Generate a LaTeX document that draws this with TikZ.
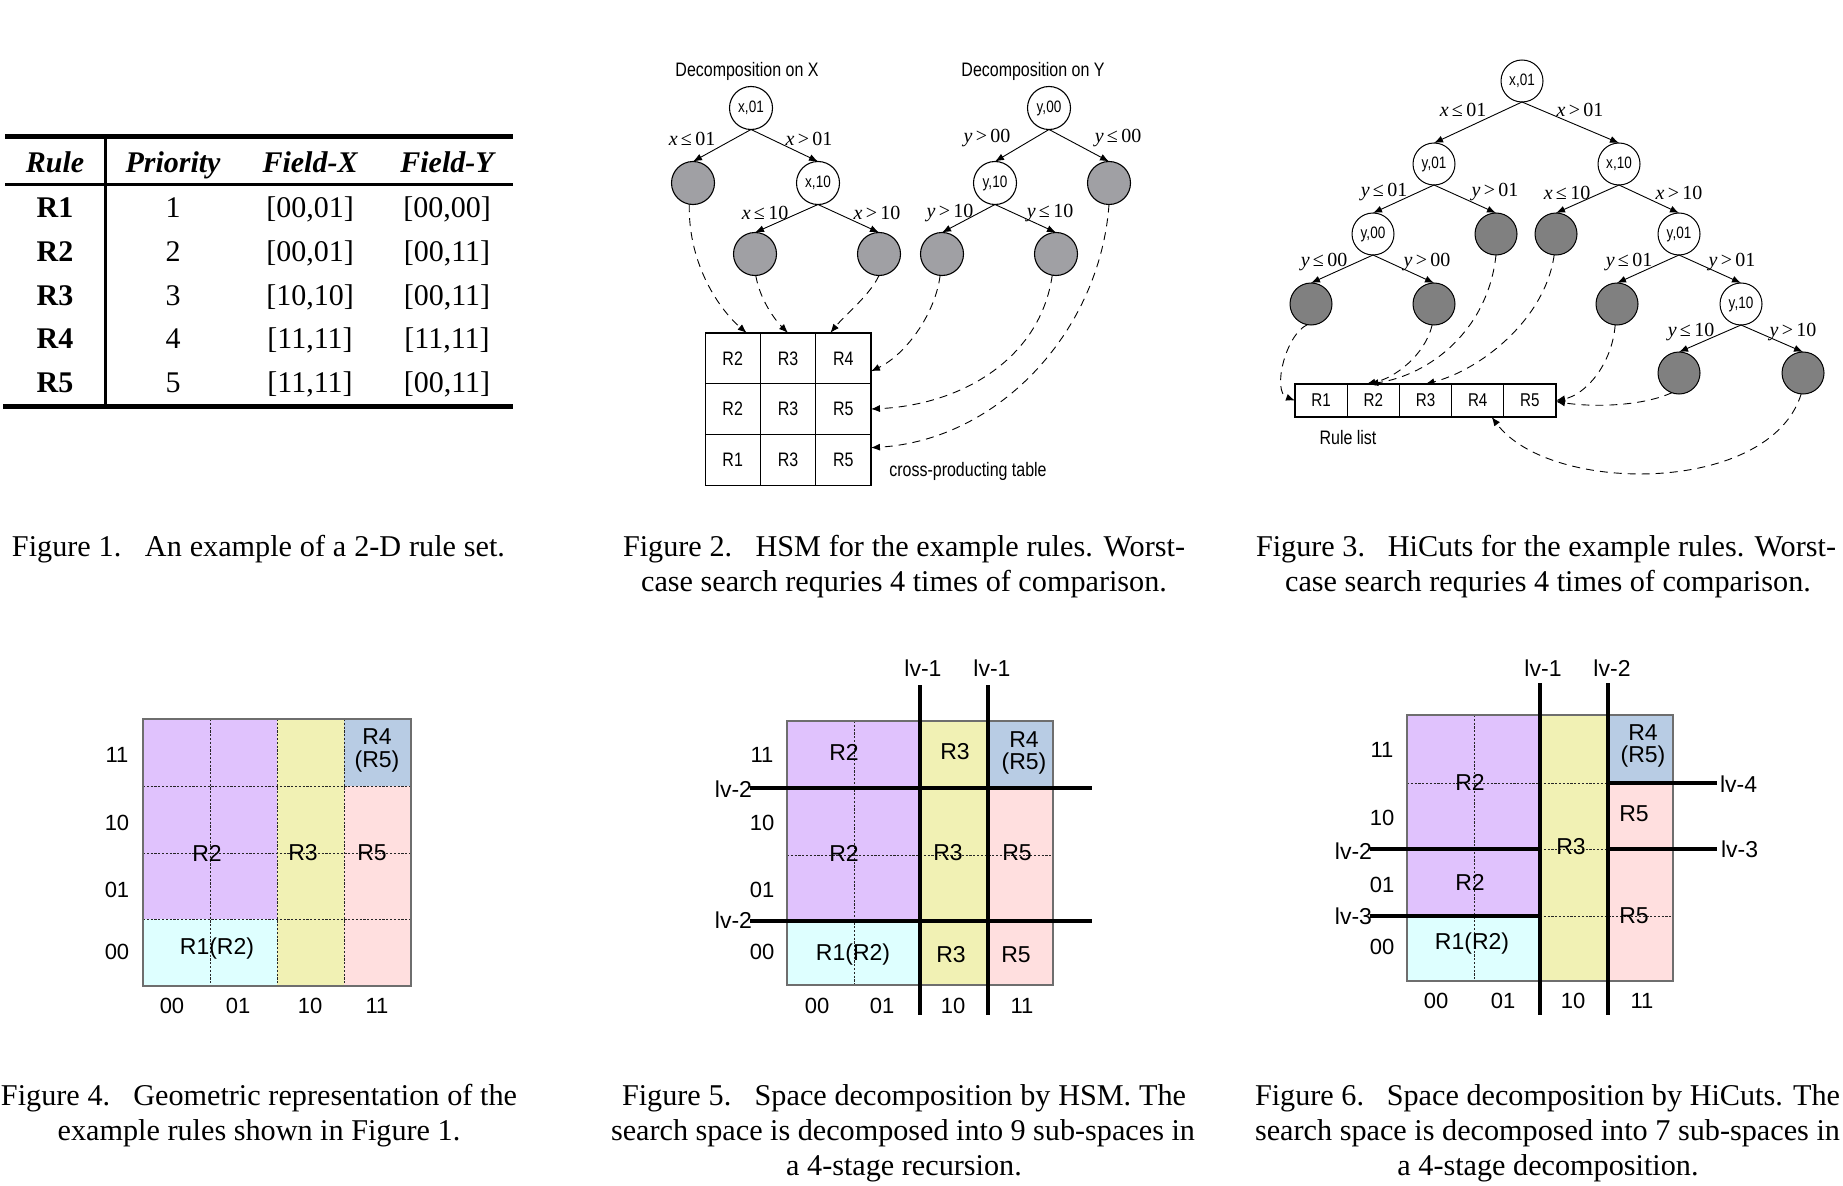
\documentclass[tikz,border=0pt]{standalone}
\usepackage{fontspec}
\setmainfont{Liberation Serif}
\newfontfamily\nsf[FakeStretch=0.82]{Liberation Sans}
\newfontfamily\asf{Liberation Sans}
\usetikzlibrary{arrows.meta,shapes.geometric}
\definecolor{cpur}{RGB}{224,194,253}
\definecolor{ccya}{RGB}{222,255,255}
\definecolor{cyel}{RGB}{241,241,180}
\definecolor{cpin}{RGB}{255,223,223}
\definecolor{cblu}{RGB}{184,204,228}
\definecolor{gA}{RGB}{160,160,164}
\definecolor{gB}{RGB}{128,128,128}
\definecolor{bord}{RGB}{110,110,110}
\tikzset{
  every node/.style={inner sep=0pt, outer sep=0pt},
  capt/.style={font=\fontsize{30.2}{36}\selectfont},
  tabh/.style={anchor=base, font=\fontsize{30}{30}\selectfont\bfseries\itshape},
  tabr/.style={anchor=base, font=\fontsize{30}{30}\selectfont\bfseries},
  tabc/.style={anchor=base, font=\fontsize{30}{30}\selectfont},
  tn/.style={circle, draw, line width=1.1pt, minimum size=43pt, fill=white, font=\nsf\fontsize{16.5}{17}\selectfont},
  tl/.style={circle, draw, line width=1.1pt, minimum size=43pt, fill=gA},
  hn/.style={circle, draw, line width=1pt, minimum size=42pt, fill=white, font=\nsf\fontsize{16.5}{17}\selectfont},
  hl/.style={circle, draw, line width=1pt, minimum size=42pt, fill=gB},
  tedge/.style={-{Latex[length=9pt,width=7pt]}, line width=0.9pt},
  dconn/.style={dash pattern=on 8pt off 6pt, line width=0.9pt, -{Latex[length=9pt,width=7pt]}},
  elab/.style={font=\fontsize{20}{20}\selectfont},
  nlab/.style={font=\nsf\fontsize{19.5}{20}\selectfont},
  cellA/.style={draw, line width=1.1pt, minimum width=55.3pt, minimum height=50.7pt, font=\nsf\fontsize{19.5}{20}\selectfont},
  cellB/.style={draw, line width=1.1pt, minimum width=52.2pt, minimum height=33pt, font=\nsf\fontsize{18.5}{19}\selectfont},
  glab/.style={font=\asf\fontsize{23}{25}\selectfont, align=center},
  alab/.style={font=\asf\fontsize{22}{22}\selectfont},
  grd/.style={line width=0.8pt, dash pattern=on 2.2pt off 1.6pt, black!85},
  bdr/.style={line width=1.2pt, bord},
  thk/.style={line width=4pt},
}
\begin{document}
\begin{tikzpicture}[x=1pt,y=-1pt]
\useasboundingbox (0,0) rectangle (1843,1185);
\fill[white] (0,0) rectangle (1843,1185);

% ---------------- Figure 1: table ----------------
\draw[line width=5pt] (5,137) -- (513,137);
\draw[line width=3pt] (5,185) -- (513,185);
\draw[line width=3pt] (105,139) -- (105,404);
\draw[line width=5pt] (3,406) -- (513,406);
\node[tabh] (th1) at (55,173) {Rule};
\node[tabh] (th2) at (173,173) {Priority};
\node[tabh] (th3) at (310,173) {Field-X};
\node[tabh] (th4) at (447,173) {Field-Y};
\node[tabr] (ra1) at (55,218) {R1};
\node[tabc] (ra2) at (173,218) {1};
\node[tabc] (ra3) at (310,218) {[00,01]};
\node[tabc] (ra4) at (447,218) {[00,00]};
\node[tabr] (rb1) at (55,261.5) {R2};
\node[tabc] (rb2) at (173,261.5) {2};
\node[tabc] (rb3) at (310,261.5) {[00,01]};
\node[tabc] (rb4) at (447,261.5) {[00,11]};
\node[tabr] (rc1) at (55,305) {R3};
\node[tabc] (rc2) at (173,305) {3};
\node[tabc] (rc3) at (310,305) {[10,10]};
\node[tabc] (rc4) at (447,305) {[00,11]};
\node[tabr] (rd1) at (55,348.5) {R4};
\node[tabc] (rd2) at (173,348.5) {4};
\node[tabc] (rd3) at (310,348.5) {[11,11]};
\node[tabc] (rd4) at (447,348.5) {[11,11]};
\node[tabr] (re1) at (55,392) {R5};
\node[tabc] (re2) at (173,392) {5};
\node[tabc] (re3) at (310,392) {[11,11]};
\node[tabc] (re4) at (447,392) {[00,11]};

% ---------------- Figure 2: HSM ----------------
\node[nlab] (dx) at (747,71) {Decomposition on X};
\node[nlab] (dy) at (1033,71) {Decomposition on Y};
\node[tn] (a0) at (751,108) {x,01};
\node[tl] (a1) at (693,183) {};
\node[tn] (a2) at (818,183) {x,10};
\node[tl] (a3) at (755,254) {};
\node[tl] (a4) at (879,254) {};
\node[tn] (b0) at (1049,108) {y,00};
\node[tn] (b1) at (995,183) {y,10};
\node[tl] (b2) at (1109,183) {};
\node[tl] (b3) at (942,254) {};
\node[tl] (b4) at (1056,254) {};
\draw[tedge] (a0.south) -- (a1.north);
\draw[tedge] (a0.south) -- (a2.north);
\draw[tedge] (a2.south) -- (a3.north);
\draw[tedge] (a2.south) -- (a4.north);
\draw[tedge] (b0.south) -- (b1.north);
\draw[tedge] (b0.south) -- (b2.north);
\draw[tedge] (b1.south) -- (b3.north);
\draw[tedge] (b1.south) -- (b4.north);
\node[elab] (la1) at (692,139) {\textit{x}\,≤\,01};
\node[elab] (la2) at (809,139) {\textit{x}\,>\,01};
\node[elab] (la3) at (765,213) {\textit{x}\,≤\,10};
\node[elab] (la4) at (877,213) {\textit{x}\,>\,10};
\node[elab] (lb1) at (987,138) {\textit{y}\,>\,00};
\node[elab] (lb2) at (1118,138) {\textit{y}\,≤\,00};
\node[elab] (lb3) at (950,213) {\textit{y}\,>\,10};
\node[elab] (lb4) at (1050,213) {\textit{y}\,≤\,10};
\node[cellA] (t11) at (732.7,358.3) {R2};
\node[cellA] (t12) at (788,358.3) {R3};
\node[cellA] (t13) at (843.3,358.3) {R4};
\node[cellA] (t21) at (732.7,409) {R2};
\node[cellA] (t22) at (788,409) {R3};
\node[cellA] (t23) at (843.3,409) {R5};
\node[cellA] (t31) at (732.7,459.7) {R1};
\node[cellA] (t32) at (788,459.7) {R3};
\node[cellA] (t33) at (843.3,459.7) {R5};
\node[nlab] (cpt) at (968,471) {cross-producting table};
\draw[dconn] (a1.-100) .. controls (688,265) and (720,310) .. ([xshift=14pt]t11.north);
\draw[dconn] (a3.-88) .. controls (760,300) and (775,320) .. (t12.north);
\draw[dconn] (a4.-90) .. controls (870,295) and (845,315) .. ([xshift=-13pt]t13.north);
\draw[dconn] (b3.-95) .. controls (935,315) and (905,355) .. ([yshift=-13pt]t13.east);
\draw[dconn] (b4.-100) .. controls (1040,360) and (960,405) .. (t23.east);
\draw[dconn] (b2.-90) .. controls (1100,330) and (1000,440) .. ([yshift=12pt]t33.east);

% ---------------- Figure 3: HiCuts ----------------
\node[hn] (c0) at (1522,81) {x,01};
\node[hn] (c1) at (1434,164) {y,01};
\node[hn] (c2) at (1619,164) {x,10};
\node[hn] (c3) at (1373,234) {y,00};
\node[hl] (c4) at (1496,234) {};
\node[hl] (c5) at (1556,234) {};
\node[hn] (c6) at (1679,234) {y,01};
\node[hl] (c7) at (1311,304) {};
\node[hl] (c8) at (1434,304) {};
\node[hl] (c9) at (1617,304) {};
\node[hn] (c10) at (1741,304) {y,10};
\node[hl] (c11) at (1679,373) {};
\node[hl] (c12) at (1803,373) {};
\draw[tedge] (c0.south) -- (c1.north);
\draw[tedge] (c0.south) -- (c2.north);
\draw[tedge] (c1.south) -- (c3.north);
\draw[tedge] (c1.south) -- (c4.north);
\draw[tedge] (c2.south) -- (c5.north);
\draw[tedge] (c2.south) -- (c6.north);
\draw[tedge] (c3.south) -- (c7.north);
\draw[tedge] (c3.south) -- (c8.north);
\draw[tedge] (c6.south) -- (c9.north);
\draw[tedge] (c6.south) -- (c10.north);
\draw[tedge] (c10.south) -- (c11.north);
\draw[tedge] (c10.south) -- (c12.north);
\node[elab] (lc1) at (1463,110) {\textit{x}\,≤\,01};
\node[elab] (lc2) at (1580,110) {\textit{x}\,>\,01};
\node[elab] (lc3) at (1384,192) {\textit{y}\,≤\,01};
\node[elab] (lc4) at (1495,192) {\textit{y}\,>\,01};
\node[elab] (lc5) at (1567,193) {\textit{x}\,≤\,10};
\node[elab] (lc6) at (1679,193) {\textit{x}\,>\,10};
\node[elab] (lc7) at (1324,262) {\textit{y}\,≤\,00};
\node[elab] (lc8) at (1427,262) {\textit{y}\,>\,00};
\node[elab] (lc9) at (1629,262) {\textit{y}\,≤\,01};
\node[elab] (lc10) at (1732,262) {\textit{y}\,>\,01};
\node[elab] (lc11) at (1691,332) {\textit{y}\,≤\,10};
\node[elab] (lc12) at (1793,332) {\textit{y}\,>\,10};
\node[cellB] (r1) at (1321.1,400.5) {R1};
\node[cellB] (r2) at (1373.3,400.5) {R2};
\node[cellB] (r3) at (1425.5,400.5) {R3};
\node[cellB] (r4) at (1477.7,400.5) {R4};
\node[cellB] (r5) at (1529.9,400.5) {R5};
\node[nlab] (rl) at (1348,438) {Rule list};
\draw[dconn] (c7.-100) .. controls (1285,335) and (1272,392) .. (r1.west);
\draw[dconn] (c8.-95) .. controls (1425,355) and (1395,378) .. ([xshift=-7pt]r2.north);
\draw[dconn] (c4.-90) .. controls (1488,330) and (1430,375) .. ([xshift=-4pt]r2.north);
\draw[dconn] (c5.-95) .. controls (1545,320) and (1480,370) .. (r3.north);
\draw[dconn] (c9.-95) .. controls (1612,365) and (1585,395) .. (r5.east);
\draw[dconn] (c11.-110) .. controls (1640,407) and (1590,407) .. ([yshift=-1pt]r5.east);
\draw[dconn] (c12.-95) .. controls (1770,495) and (1550,495) .. ([xshift=14pt]r4.south);

% ---------------- Figure 4 ----------------
\fill[cpur] (143,719) rectangle (277,919);
\fill[ccya] (143,919) rectangle (277,986);
\fill[cyel] (277,719) rectangle (344,986);
\fill[cblu] (344,719) rectangle (411,786);
\fill[cpin] (344,786) rectangle (411,986);
\draw[grd] (210,719) -- (210,986);
\draw[grd] (277,719) -- (277,986);
\draw[grd] (344,719) -- (344,986);
\draw[grd] (143,786) -- (411,786);
\draw[grd] (143,853) -- (411,853);
\draw[grd] (143,919) -- (411,919);
\draw[bdr] (143,719) rectangle (411,986);
\node[glab] (g4r2) at (207,853) {R2};
\node[glab] (g4r3) at (303,853) {R3};
\node[glab] (g4r5) at (372,853) {R5};
\node[glab] (g4r4) at (377,737) {R4};
\node[glab] (g4r45) at (377,762) {(R5)};
\node[glab] (g4r1) at (217,949) {R1(R2)};
\node[alab] (g4y1) at (117,755) {11};
\node[alab] (g4y2) at (117,823) {10};
\node[alab] (g4y3) at (117,890) {01};
\node[alab] (g4y4) at (117,952) {00};
\node[alab] (g4x1) at (172,1006) {00};
\node[alab] (g4x2) at (238,1006) {01};
\node[alab] (g4x3) at (310,1006) {10};
\node[alab] (g4x4) at (377,1006) {11};

% ---------------- Figure 5 ----------------
\fill[cpur] (787,721) rectangle (920,921);
\fill[ccya] (787,921) rectangle (920,985);
\fill[cyel] (920,721) rectangle (988,985);
\fill[cblu] (988,721) rectangle (1053,788);
\fill[cpin] (988,788) rectangle (1053,985);
\draw[grd] (854,721) -- (854,985);
\draw[grd] (787,855) -- (1053,855);
\draw[bdr] (787,721) rectangle (1053,985);
\draw[thk] (920,685) -- (920,1015);
\draw[thk] (988,685) -- (988,1015);
\draw[thk] (750,788) -- (1092,788);
\draw[thk] (750,921) -- (1092,921);
\node[glab] (v5a) at (923,668) {lv-1};
\node[glab] (v5b) at (992,668) {lv-1};
\node[glab, anchor=east] (v5c) at (752,789) {lv-2};
\node[glab, anchor=east] (v5d) at (752,920) {lv-2};
\node[glab] (g5a) at (844,752) {R2};
\node[glab] (g5b) at (955,752) {R3};
\node[glab] (g5c) at (1024,740) {R4};
\node[glab] (g5d) at (1024,764) {(R5)};
\node[glab] (g5e) at (844,853) {R2};
\node[glab] (g5f) at (948,853) {R3};
\node[glab] (g5g) at (1017,853) {R5};
\node[glab] (g5h) at (853,955) {R1(R2)};
\node[glab] (g5i) at (951,955) {R3};
\node[glab] (g5j) at (1016,955) {R5};
\node[alab] (g5y1) at (762,755) {11};
\node[alab] (g5y2) at (762,823) {10};
\node[alab] (g5y3) at (762,890) {01};
\node[alab] (g5y4) at (762,952) {00};
\node[alab] (g5x1) at (817,1006) {00};
\node[alab] (g5x2) at (882,1006) {01};
\node[alab] (g5x3) at (953,1006) {10};
\node[alab] (g5x4) at (1022,1006) {11};

% ---------------- Figure 6 ----------------
\fill[cpur] (1407,715) rectangle (1540,916);
\fill[ccya] (1407,916) rectangle (1540,981);
\fill[cyel] (1540,715) rectangle (1608,981);
\fill[cblu] (1608,715) rectangle (1673,783);
\fill[cpin] (1608,783) rectangle (1673,981);
\draw[grd] (1474,715) -- (1474,981);
\draw[grd] (1407,783) -- (1673,783);
\draw[grd] (1407,849) -- (1673,849);
\draw[grd] (1407,916) -- (1673,916);
\draw[bdr] (1407,715) rectangle (1673,981);
\draw[thk] (1540,683) -- (1540,1015);
\draw[thk] (1608,683) -- (1608,1015);
\draw[thk] (1370,849) -- (1540,849);
\draw[thk] (1370,916) -- (1540,916);
\draw[thk] (1608,783) -- (1717,783);
\draw[thk] (1608,849) -- (1717,849);
\node[glab] (v6a) at (1543,668) {lv-1};
\node[glab] (v6b) at (1612,668) {lv-2};
\node[glab, anchor=west] (v6c) at (1720,784) {lv-4};
\node[glab, anchor=west] (v6d) at (1721,849) {lv-3};
\node[glab, anchor=east] (v6e) at (1372,851) {lv-2};
\node[glab, anchor=east] (v6f) at (1372,916) {lv-3};
\node[glab] (g6a) at (1643,733) {R4};
\node[glab] (g6b) at (1643,757) {(R5)};
\node[glab] (g6c) at (1470,782) {R2};
\node[glab] (g6d) at (1634,814) {R5};
\node[glab] (g6e) at (1571,847) {R3};
\node[glab] (g6f) at (1470,882) {R2};
\node[glab] (g6g) at (1634,916) {R5};
\node[glab] (g6h) at (1472,944) {R1(R2)};
\node[alab] (g6y1) at (1382,750) {11};
\node[alab] (g6y2) at (1382,818) {10};
\node[alab] (g6y3) at (1382,885) {01};
\node[alab] (g6y4) at (1382,947) {00};
\node[alab] (g6x1) at (1436,1001) {00};
\node[alab] (g6x2) at (1503,1001) {01};
\node[alab] (g6x3) at (1573,1001) {10};
\node[alab] (g6x4) at (1642,1001) {11};

% ---------------- Captions ----------------
\node[capt, anchor=base west] (cap1) at (12,556) {\makebox[493pt][s]{Figure 1.\ \ \ An example of a 2-D rule set.}};
\node[capt, anchor=base west] (cap2a) at (623,556) {\makebox[562pt][s]{Figure 2.\ \ \ HSM for the example rules. Worst-}};
\node[capt, anchor=base] (cap2b) at (904,591) {case search requries 4 times of comparison.};
\node[capt, anchor=base west] (cap3a) at (1256,556) {\makebox[580pt][s]{Figure 3.\ \ \ HiCuts for the example rules. Worst-}};
\node[capt, anchor=base] (cap3b) at (1548,591) {case search requries 4 times of comparison.};
\node[capt, anchor=base west] (cap4a) at (1,1105) {\makebox[516pt][s]{Figure 4.\ \ \ Geometric representation of the}};
\node[capt, anchor=base] (cap4b) at (259,1140) {example rules shown in Figure 1.};
\node[capt, anchor=base west] (cap5a) at (622,1105) {\makebox[564pt][s]{Figure 5.\ \ \ Space decomposition by HSM. The}};
\node[capt, anchor=base west] (cap5b) at (611,1140) {\makebox[584pt][s]{search space is decomposed into 9 sub-spaces in}};
\node[capt, anchor=base] (cap5c) at (904,1175) {a 4-stage recursion.};
\node[capt, anchor=base west] (cap6a) at (1255,1105) {\makebox[585pt][s]{Figure 6.\ \ \ Space decomposition by HiCuts. The}};
\node[capt, anchor=base west] (cap6b) at (1255,1140) {\makebox[585pt][s]{search space is decomposed into 7 sub-spaces in}};
\node[capt, anchor=base] (cap6c) at (1548,1175) {a 4-stage decomposition.};
\end{tikzpicture}
\end{document}
